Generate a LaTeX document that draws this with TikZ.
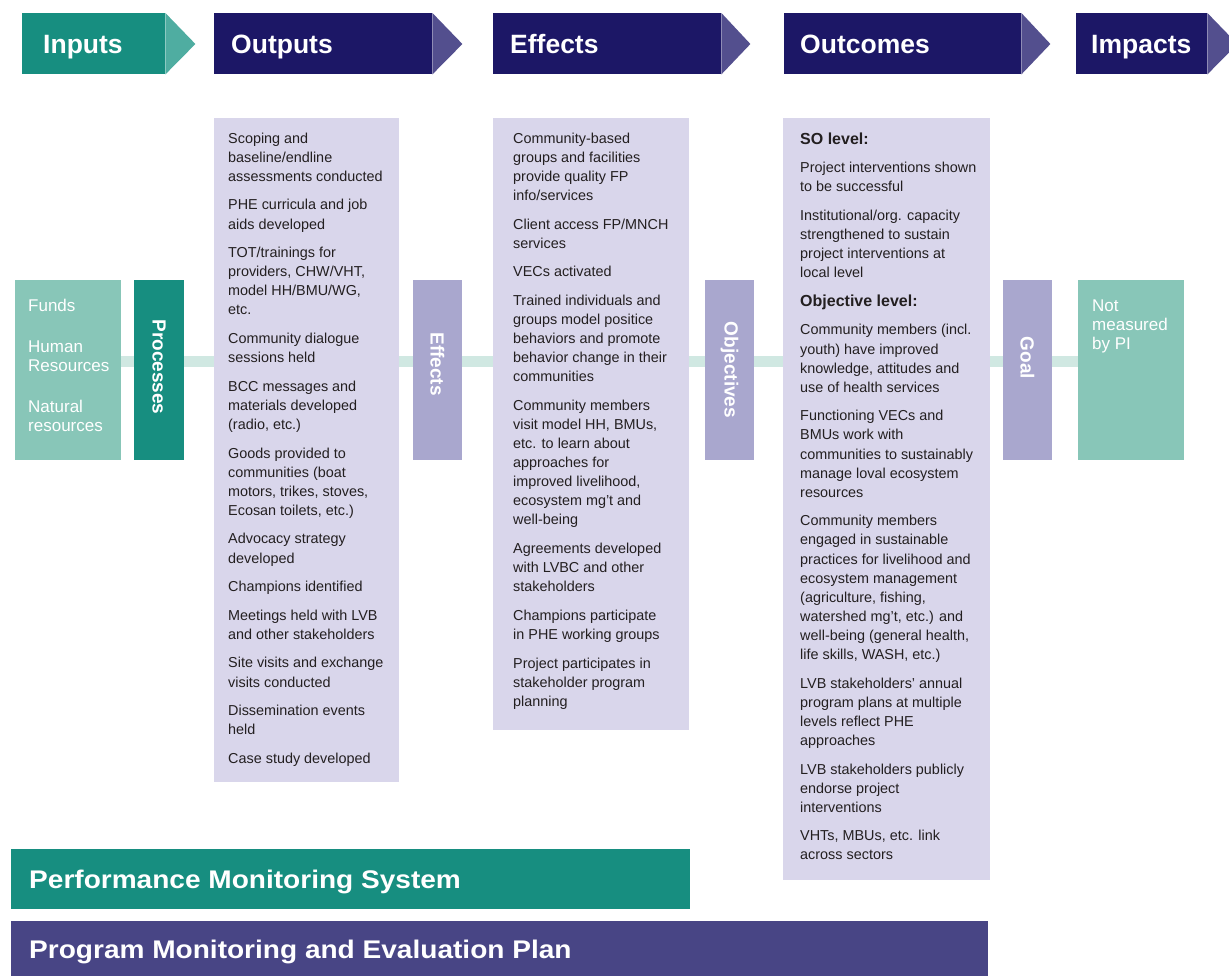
\documentclass[tikz,border=0pt]{standalone}
\usepackage{fontspec}
\setmainfont{Liberation Sans}
\usetikzlibrary{backgrounds}
\definecolor{cNavy}{HTML}{1C1766}
\definecolor{cNavyTip}{HTML}{534F8E}
\definecolor{cTeal}{HTML}{178E80}
\definecolor{cTealTip}{HTML}{4FADA1}
\definecolor{cTealLight}{HTML}{88C6B8}
\definecolor{cLav}{HTML}{D9D6EB}
\definecolor{cLavDark}{HTML}{A9A7CE}
\definecolor{cBand}{HTML}{D0E8E2}
\definecolor{cPurple}{HTML}{484585}
\definecolor{cText}{HTML}{231F20}
\begin{document}
\begin{tikzpicture}[x=1pt,y=-1pt,
  hdrbox/.style={fill=cNavy, draw=none, inner sep=0pt, minimum height=61pt, anchor=north west},
  hdrtxt/.style={text=white, font=\fontsize{26.5}{30}\selectfont\bfseries, anchor=base west, inner sep=0pt},
  lavbox/.style={fill=cLav, draw=none, inner sep=0pt, anchor=north west},
  vlab/.style={fill=cLavDark, draw=none, inner sep=0pt, anchor=north west, minimum width=49pt, minimum height=180pt},
  vtxt/.style={text=white, font=\fontsize{19}{22}\selectfont\bfseries, rotate=-90, inner sep=0pt},
  body/.style={text=cText, font=\fontsize{14.4}{19.1}\selectfont, align=left, anchor=north west, inner sep=0pt},
  sidetxt/.style={text=white, font=\fontsize{17}{19}\selectfont, align=left, anchor=north west, inner sep=0pt},
  bartxt/.style={text=white, font=\fontsize{25.5}{30}\selectfont\bfseries, anchor=base west, inner sep=0pt},
  band/.style={draw=cBand, line width=11.5pt}
]
\useasboundingbox (0,0) rectangle (1229,975);

% ---------- header row ----------
\node[hdrbox, fill=cTeal, minimum width=143pt] (hIn) at (22,13) {};
\fill[cTealTip] (hIn.north east) -- ++(30,31) -- (hIn.south east) -- cycle;
\node[hdrtxt] (hInT) at (43,53) {Inputs};

\node[hdrbox, minimum width=218pt] (hOut) at (214,13) {};
\fill[cNavyTip] (hOut.north east) -- ++(30,31) -- (hOut.south east) -- cycle;
\node[hdrtxt] (hOutT) at (231,53) {Outputs};

\node[hdrbox, minimum width=228pt] (hEff) at (493,13) {};
\fill[cNavyTip] (hEff.north east) -- ++(29,31) -- (hEff.south east) -- cycle;
\node[hdrtxt] (hEffT) at (510,53) {Effects};

\node[hdrbox, minimum width=237pt] (hOc) at (784,13) {};
\fill[cNavyTip] (hOc.north east) -- ++(29,31) -- (hOc.south east) -- cycle;
\node[hdrtxt] (hOcT) at (800,53) {Outcomes};

\node[hdrbox, minimum width=131pt] (hIm) at (1076,13) {};
\fill[cNavyTip] (hIm.north east) -- ++(30,31) -- (hIm.south east) -- cycle;
\node[hdrtxt] (hImT) at (1091,53) {Impacts};

% ---------- middle row boxes ----------
\node[fill=cTealLight, inner sep=0pt, anchor=north west, minimum width=106pt, minimum height=180pt] (inbox) at (15,280) {};
\node[fill=cTeal, inner sep=0pt, anchor=north west, minimum width=50pt, minimum height=180pt] (procbox) at (134,280) {};
\node[lavbox, minimum width=185pt, minimum height=664pt] (outbox) at (214,118) {};
\node[vlab] (effbox) at (413,280) {};
\node[lavbox, minimum width=196pt, minimum height=612pt] (effcol) at (493,118) {};
\node[vlab] (objbox) at (705,280) {};
\node[lavbox, minimum width=207pt, minimum height=762pt] (occol) at (783,118) {};
\node[vlab] (goalbox) at (1003,280) {};
\node[fill=cTealLight, inner sep=0pt, anchor=north west, minimum width=106pt, minimum height=180pt] (nmbox) at (1078,280) {};

% connector band behind the boxes
\begin{scope}[on background layer]
\draw[band] ([yshift=8.5pt]inbox.east) -- ([yshift=8.5pt]nmbox.west);
\end{scope}

% vertical labels
\node[vtxt] (procT) at (159,367) {Processes};
\node[vtxt] (effT) at (437.5,364) {Effects};
\node[vtxt] (objT) at (729.5,370) {Objectives};
\node[vtxt] (goalT) at (1027.5,358) {Goal};

% side texts
\node[sidetxt] (inT) at (28,298.4) {\strut Funds\\[21.6pt]Human\\Resources\\[21.6pt]Natural\\resources};
\node[sidetxt] (nmT) at (1092,298.4) {\strut Not\\measured\\by PI};

% ---------- column texts ----------
\node[body] (outT) at (228,129.6) {\strut Scoping and\\baseline/endline\\assessments conducted\\[9.5pt]%
PHE curricula and job\\aids developed\\[9.5pt]%
TOT/trainings for\\providers, CHW/VHT,\\model HH/BMU/WG,\\etc.\\[9.5pt]%
Community dialogue\\sessions held\\[9.5pt]%
BCC messages and\\materials developed\\(radio, etc.)\\[9.5pt]%
Goods provided to\\communities (boat\\motors, trikes, stoves,\\Ecosan toilets, etc.)\\[9.5pt]%
Advocacy strategy\\developed\\[9.5pt]%
Champions identified\\[9.5pt]%
Meetings held with LVB\\and other stakeholders\\[9.5pt]%
Site visits and exchange\\visits conducted\\[9.5pt]%
Dissemination events\\held\\[9.5pt]%
Case study developed};

\node[body] (effTxt) at (513,129.6) {\strut Community-based\\groups and facilities\\provide quality FP\\info/services\\[9.5pt]%
Client access FP/MNCH\\services\\[9.5pt]%
VECs activated\\[9.5pt]%
Trained individuals and\\groups model positice\\behaviors and promote\\behavior change in their\\communities\\[9.5pt]%
Community members\\visit model HH, BMUs,\\etc. to learn about\\approaches for\\improved livelihood,\\ecosystem mg’t and\\well-being\\[9.5pt]%
Agreements developed\\with LVBC and other\\stakeholders\\[9.5pt]%
Champions participate\\in PHE working groups\\[9.5pt]%
Project participates in\\stakeholder program\\planning};

\node[body] (ocTxt) at (800,130.6) {\strut{\fontsize{16}{19.1}\selectfont\bfseries SO level:}\\[9.5pt]%
Project interventions shown\\to be successful\\[9.5pt]%
Institutional/org. capacity\\strengthened to sustain\\project interventions at\\local level\\[9.5pt]%
{\fontsize{16}{19.1}\selectfont\bfseries Objective level:}\\[9.5pt]%
Community members (incl.\\youth) have improved\\knowledge, attitudes and\\use of health services\\[9.5pt]%
Functioning VECs and\\BMUs work with\\communities to sustainably\\manage loval ecosystem\\resources\\[9.5pt]%
Community members\\engaged in sustainable\\practices for livelihood and\\ecosystem management\\(agriculture, fishing,\\watershed mg’t, etc.) and\\well-being (general health,\\life skills, WASH, etc.)\\[9.5pt]%
LVB stakeholders’ annual\\program plans at multiple\\levels reflect PHE\\approaches\\[9.5pt]%
LVB stakeholders publicly\\endorse project\\interventions\\[9.5pt]%
VHTs, MBUs, etc. link\\across sectors};

% ---------- bottom bars ----------
\node[fill=cTeal, inner sep=0pt, anchor=north west, minimum width=679pt, minimum height=60pt] (pms) at (11,849) {};
\node[bartxt] (pmsT) at (29,888) {\scalebox{1.1}[1]{Performance Monitoring System}};
\node[fill=cPurple, inner sep=0pt, anchor=north west, minimum width=977pt, minimum height=56pt] (pmep) at (11,921) {};
\node[bartxt] (pmepT) at (29,958) {\scalebox{1.1}[1]{Program Monitoring and Evaluation Plan}};
\end{tikzpicture}
\end{document}
